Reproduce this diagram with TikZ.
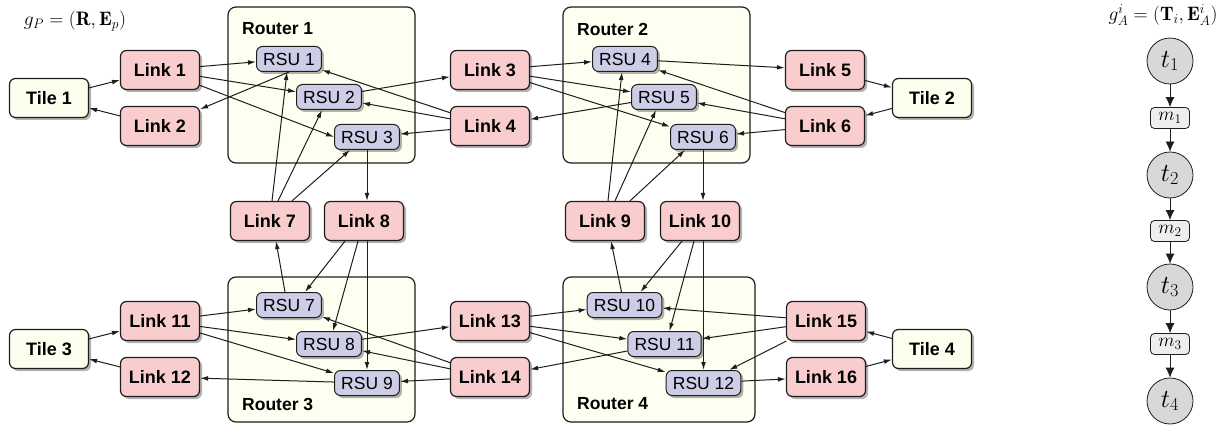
\RequirePackage{fix-cm}
\documentclass[tikz,border=0pt]{standalone}
\usepackage{fontspec}
\setsansfont{Liberation Sans}
\usetikzlibrary{arrows.meta,shadows}
\definecolor{linkfill}{RGB}{249,205,205}
\definecolor{rsufill}{RGB}{205,205,232}
\definecolor{tilefill}{RGB}{254,254,238}
\definecolor{routerfill}{RGB}{254,254,241}
\definecolor{taskfill}{RGB}{216,216,216}
\definecolor{msgfill}{RGB}{238,238,238}
\definecolor{edgecol}{RGB}{30,30,30}
\tikzset{
  shad/.style={drop shadow={shadow xshift=2.5pt,shadow yshift=-2.5pt,fill=black,opacity=0.3}},
  linkbox/.style={draw=edgecol,line width=1.2pt,rounded corners=6pt,fill=linkfill,
    minimum width=79pt,minimum height=39pt,inner sep=0pt,shad,
    font=\sffamily\bfseries\fontsize{18}{20}\selectfont},
  tilebox/.style={linkbox,fill=tilefill},
  rsubox/.style={draw=edgecol,line width=1pt,rounded corners=6pt,fill=rsufill,
    minimum height=25pt,inner xsep=6.7pt,inner ysep=0pt,shad,
    font=\sffamily\fontsize{17.5}{19}\selectfont},
  routerbox/.style={draw=edgecol,line width=1.2pt,rounded corners=8pt,fill=routerfill},
  routerlabel/.style={anchor=west,inner sep=0pt,font=\sffamily\bfseries\fontsize{17.5}{19}\selectfont},
  conn/.style={draw=edgecol,line width=1pt,-{Latex[length=8pt,width=4.8pt]}},
  task/.style={circle,draw=edgecol,line width=0.8pt,fill=taskfill,minimum size=46pt,inner sep=0pt,
    font=\fontsize{26}{28}\selectfont},
  msg/.style={draw=edgecol,line width=0.8pt,rounded corners=4pt,fill=msgfill,minimum width=39pt,
    minimum height=21pt,inner sep=0pt,font=\fontsize{19}{21}\selectfont},
  chain/.style={draw=edgecol,line width=0.8pt,-{Latex[length=10pt,width=9pt]}},
  mathlabel/.style={inner sep=0pt,font=\fontsize{19.5}{22}\selectfont},
}
\begin{document}
\begin{tikzpicture}[x=1pt,y=-1pt]
\useasboundingbox (0,0) rectangle (1230,430);
% routers
\node[routerbox,minimum width=187pt,minimum height=156pt] (rt1) at (321.5,85) {};
\node[routerbox,minimum width=187pt,minimum height=156pt] (rt2) at (656.5,85) {};
\node[routerbox,minimum width=187pt,minimum height=145pt] (rt3) at (321.5,349.5) {};
\node[routerbox,minimum width=192pt,minimum height=145pt] (rt4) at (659,349.5) {};
\node[routerlabel] (rl1) at (242,29) {Router 1};
\node[routerlabel] (rl2) at (577,29) {Router 2};
\node[routerlabel] (rl3) at (242,404) {Router 3};
\node[routerlabel] (rl4) at (577,404) {Router 4};
% labels
\node[mathlabel] (gp) at (75,21) {$g_P=(\mathbf{R},\mathbf{E}_p)$};
\node[mathlabel] (ga) at (1163,15) {$g_A^i=(\mathbf{T}_i,\mathbf{E}_A^i)$};
% tiles
\node[tilebox] (T1) at (49,98) {Tile 1};
\node[tilebox] (T2) at (932,98) {Tile 2};
\node[tilebox] (T3) at (49,349) {Tile 3};
\node[tilebox] (T4) at (932,349) {Tile 4};
% links
\node[linkbox] (L1) at (160,70) {Link 1};
\node[linkbox] (L2) at (160,126) {Link 2};
\node[linkbox] (L3) at (490,70) {Link 3};
\node[linkbox] (L4) at (490,126) {Link 4};
\node[linkbox] (L5) at (825,70) {Link 5};
\node[linkbox] (L6) at (825,126) {Link 6};
\node[linkbox] (L7) at (270,221) {Link 7};
\node[linkbox] (L8) at (364,221) {Link 8};
\node[linkbox] (L9) at (605,221) {Link 9};
\node[linkbox] (L10) at (700,221) {Link 10};
\node[linkbox] (L11) at (160,321) {Link 11};
\node[linkbox] (L12) at (160,377) {Link 12};
\node[linkbox] (L13) at (490,321) {Link 13};
\node[linkbox] (L14) at (490,377) {Link 14};
\node[linkbox] (L15) at (826,321) {Link 15};
\node[linkbox] (L16) at (826,377) {Link 16};
% RSUs
\node[rsubox] (R1) at (289,59) {RSU 1};
\node[rsubox] (R2) at (329,97) {RSU 2};
\node[rsubox] (R3) at (367,137) {RSU 3};
\node[rsubox] (R4) at (625,59) {RSU 4};
\node[rsubox] (R5) at (664,97) {RSU 5};
\node[rsubox] (R6) at (703,137) {RSU 6};
\node[rsubox] (R7) at (289,305) {RSU 7};
\node[rsubox] (R8) at (329,344) {RSU 8};
\node[rsubox] (R9) at (367,383) {RSU 9};
\node[rsubox] (R10) at (624.5,305) {RSU 10};
\node[rsubox] (R11) at (664.5,344) {RSU 11};
\node[rsubox] (R12) at (703.5,383) {RSU 12};
% top-left
\draw[conn] (T1) -- (L1);
\draw[conn] (L2) -- (T1);
\draw[conn] (L1) -- (R1);
\draw[conn] (L1) -- (R2);
\draw[conn] (L1) -- (R3.west);
\draw[conn] (R1.south) -- (L2);
\draw[conn] (R2) -- (L3);
\draw[conn] (L4) -- (R1);
\draw[conn] (L4) -- (R2);
\draw[conn] (L4) -- (R3);
\draw[conn] ([xshift=2pt]L7.north) -- ([xshift=-2pt]R1.south);
\draw[conn] ([xshift=8pt]L7.north) -- ([xshift=-7pt]R2.south);
\draw[conn] ([xshift=22pt]L7.north) -- ([xshift=-17pt]R3.south);
\draw[conn] (R3.south) -- (R3.south |- L8.north);
% top-right
\draw[conn] (L3) -- (R4);
\draw[conn] (L3) -- (R5);
\draw[conn] (L3) -- (R6);
\draw[conn] (R5) -- (L4);
\draw[conn] (R4) -- (L5);
\draw[conn] (L6) -- (R4);
\draw[conn] (L6) -- (R5);
\draw[conn] (L6) -- (R6);
\draw[conn] ([xshift=3pt]L9.north) -- ([xshift=-3pt]R4.south);
\draw[conn] ([xshift=10pt]L9.north) -- ([xshift=-8pt]R5.south);
\draw[conn] ([xshift=25pt]L9.north) -- ([xshift=-18pt]R6.south);
\draw[conn] (R6.south) -- (R6.south |- L10.north);
\draw[conn] (L5) -- (T2);
\draw[conn] (T2) -- (L6);
% bottom-left
\draw[conn] (T3) -- (L11);
\draw[conn] (L12) -- (T3);
\draw[conn] (L11) -- (R7);
\draw[conn] (L11) -- (R8);
\draw[conn] (L11) -- (R9);
\draw[conn] (R9) -- (L12);
\draw[conn] ([xshift=-4pt]R7.north) -- ([xshift=6pt]L7.south);
\draw[conn] ([xshift=-19pt]L8.south) -- ([xshift=16pt]R7.north);
\draw[conn] ([xshift=-6pt]L8.south) -- ([xshift=4pt]R8.north);
\draw[conn] (R9.north |- L8.south) -- (R9.north);
\draw[conn] (R8) -- (L13);
\draw[conn] (L14) -- (R7);
\draw[conn] (L14) -- (R8);
\draw[conn] (L14) -- (R9);
% bottom-right
\draw[conn] (L13) -- (R10);
\draw[conn] (L13) -- (R11);
\draw[conn] (L13) -- (R12);
\draw[conn] (R11) -- (L14);
\draw[conn] ([xshift=-3pt]R10.north) -- ([xshift=6pt]L9.south);
\draw[conn] ([xshift=-18pt]L10.south) -- ([xshift=16pt]R10.north);
\draw[conn] ([xshift=-6pt]L10.south) -- ([xshift=5pt]R11.north);
\draw[conn] (R12.north |- L10.south) -- (R12.north);
\draw[conn] (L15) -- (R10);
\draw[conn] (L15) -- (R11);
\draw[conn] (L15) -- (R12);
\draw[conn] (R12) -- (L16);
\draw[conn] (T4) -- (L15);
\draw[conn] (L16) -- (T4);
% task chain
\node[task] (t1) at (1170,61) {$t_1$};
\node[msg] (m1) at (1170,118) {$m_1$};
\node[task] (t2) at (1170,175) {$t_2$};
\node[msg] (m2) at (1170,231) {$m_2$};
\node[task] (t3) at (1170,287) {$t_3$};
\node[msg] (m3) at (1170,344) {$m_3$};
\node[task] (t4) at (1170,401) {$t_4$};
\draw[chain] (t1) -- (m1);
\draw[chain] (m1) -- (t2);
\draw[chain] (t2) -- (m2);
\draw[chain] (m2) -- (t3);
\draw[chain] (t3) -- (m3);
\draw[chain] (m3) -- (t4);
\end{tikzpicture}
\end{document}
